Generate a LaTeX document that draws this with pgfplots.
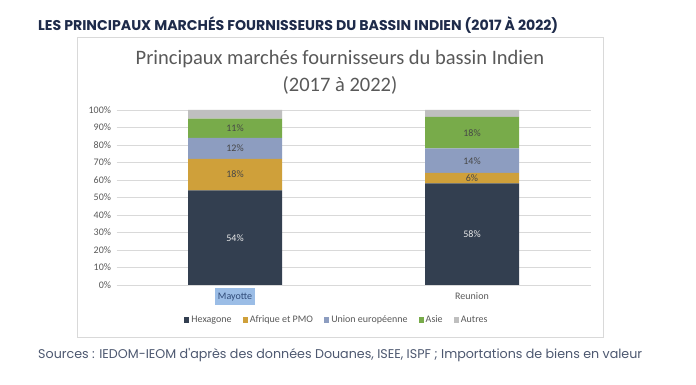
\documentclass[border=0pt]{standalone}
\usepackage{pgfplots}
\pgfplotsset{compat=1.18}
\usepackage{pgfplotstable}
\usepackage{fontspec}
\setmainfont{Carlito}
\newfontfamily\poppins{Poppins}
\definecolor{hexc}{HTML}{333F50}
\definecolor{afrc}{HTML}{CFA03A}
\definecolor{uec}{HTML}{8D9DC0}
\definecolor{asiec}{HTML}{78AB4A}
\definecolor{autc}{HTML}{BFBFBF}
\definecolor{gridc}{HTML}{D9D9D9}
\definecolor{txtc}{HTML}{595959}
\definecolor{navy}{HTML}{1E2B4A}
\definecolor{srcc}{HTML}{4D5870}
\definecolor{hl}{HTML}{9BBDE6}
\definecolor{hltxt}{HTML}{2F4A78}

\pgfplotstableread{
x hex afr ue asie autres
0 54 18 12 11 5
1 58 6 14 18 4
}\data
\pgfplotstableread{
x y lab
0 27 54
1 29 58
}\hexlab
\pgfplotstableread{
x y lab
0 63.2 18
0 78.2 12
0 89.6 11
1 60.8 6
1 70.8 14
1 86.6 18
}\otherlab

\begin{document}
\begin{tikzpicture}[x=1pt,y=1pt]
\fill[white] (0,0) rectangle (696,385);
\useasboundingbox (0,0) rectangle (696,385);
\draw[gridc, line width=0.8pt] (77,348) rectangle (603,48);
\node[anchor=west, inner sep=0pt, text=navy] at (38,360)
  {\resizebox{520pt}{!}{\poppins\bfseries LES PRINCIPAUX MARCHÉS FOURNISSEURS DU BASSIN INDIEN (2017 À 2022)}};
\node[anchor=center, text=txtc, inner sep=0pt] at (340,326) {\fontsize{20.5}{24}\selectfont Principaux marchés fournisseurs du bassin Indien};
\node[anchor=center, text=txtc, inner sep=0pt] at (340,300) {\fontsize{20.5}{24}\selectfont (2017 à 2022)};
\node[anchor=west, inner sep=0pt, text=srcc] at (38,30)
  {\resizebox{604pt}{!}{\poppins Sources : IEDOM-IEOM d'après des données Douanes, ISEE, ISPF ; Importations de biens en valeur}};

\begin{axis}[
  at={(116.5pt,100pt)}, anchor=south west,
  scale only axis, width=474pt, height=175pt,
  ybar stacked, bar width=94pt,
  xmin=-0.5, xmax=1.5, ymin=0, ymax=100,
  xtick={0,1},
  xticklabels={{\setlength{\fboxsep}{2.5pt}\colorbox{hl}{\textcolor{hltxt}{\strut Mayotte}}}, {\setlength{\fboxsep}{2.5pt}\colorbox{white}{\strut Reunion}}},
  ytick={0,10,...,100},
  yticklabel={\pgfmathprintnumber{\tick}\%},
  /pgf/number format/assume math mode=true,
  ymajorgrids, grid style={gridc, line width=0.8pt},
  axis line style={draw=none},
  major tick length=0pt,
  tick label style={font=\fontsize{10}{12}\selectfont, text=txtc},
  xticklabel style={yshift=-3pt, inner sep=0pt},
  yticklabel style={xshift=-2pt},
  legend style={at={(0.465,-0.2)}, anchor=center, draw=none, fill=none,
    font=\fontsize{10}{12}\selectfont, text=txtc,
    /tikz/every even column/.append style={column sep=9pt}},
  legend columns=5,
  legend image code/.code={\fill[#1] (0pt,-2.6pt) rectangle (5.2pt,2.6pt);},
]
\addplot[fill=hexc, draw=none] table[x=x, y=hex] {\data};
\addplot[fill=afrc, draw=none] table[x=x, y=afr] {\data};
\addplot[fill=uec, draw=none] table[x=x, y=ue] {\data};
\addplot[fill=asiec, draw=none] table[x=x, y=asie] {\data};
\addplot[fill=autc, draw=none] table[x=x, y=autres] {\data};
\legend{Hexagone, Afrique et PMO, Union européenne, Asie, Autres}
\end{axis}

\begin{axis}[
  at={(116.5pt,100pt)}, anchor=south west,
  scale only axis, width=474pt, height=175pt,
  xmin=-0.5, xmax=1.5, ymin=0, ymax=100,
  hide axis,
  point meta=explicit symbolic,
  nodes near coords={\pgfplotspointmeta\%},
  every node near coord/.append style={anchor=center, font=\fontsize{10}{12}\selectfont},
]
\addplot[only marks, mark=none, nodes near coords style={text=white!92!black}] table[x=x, y=y, meta=lab] {\hexlab};
\addplot[only marks, mark=none, nodes near coords style={text=black!72}] table[x=x, y=y, meta=lab] {\otherlab};
\end{axis}
\end{tikzpicture}
\end{document}
